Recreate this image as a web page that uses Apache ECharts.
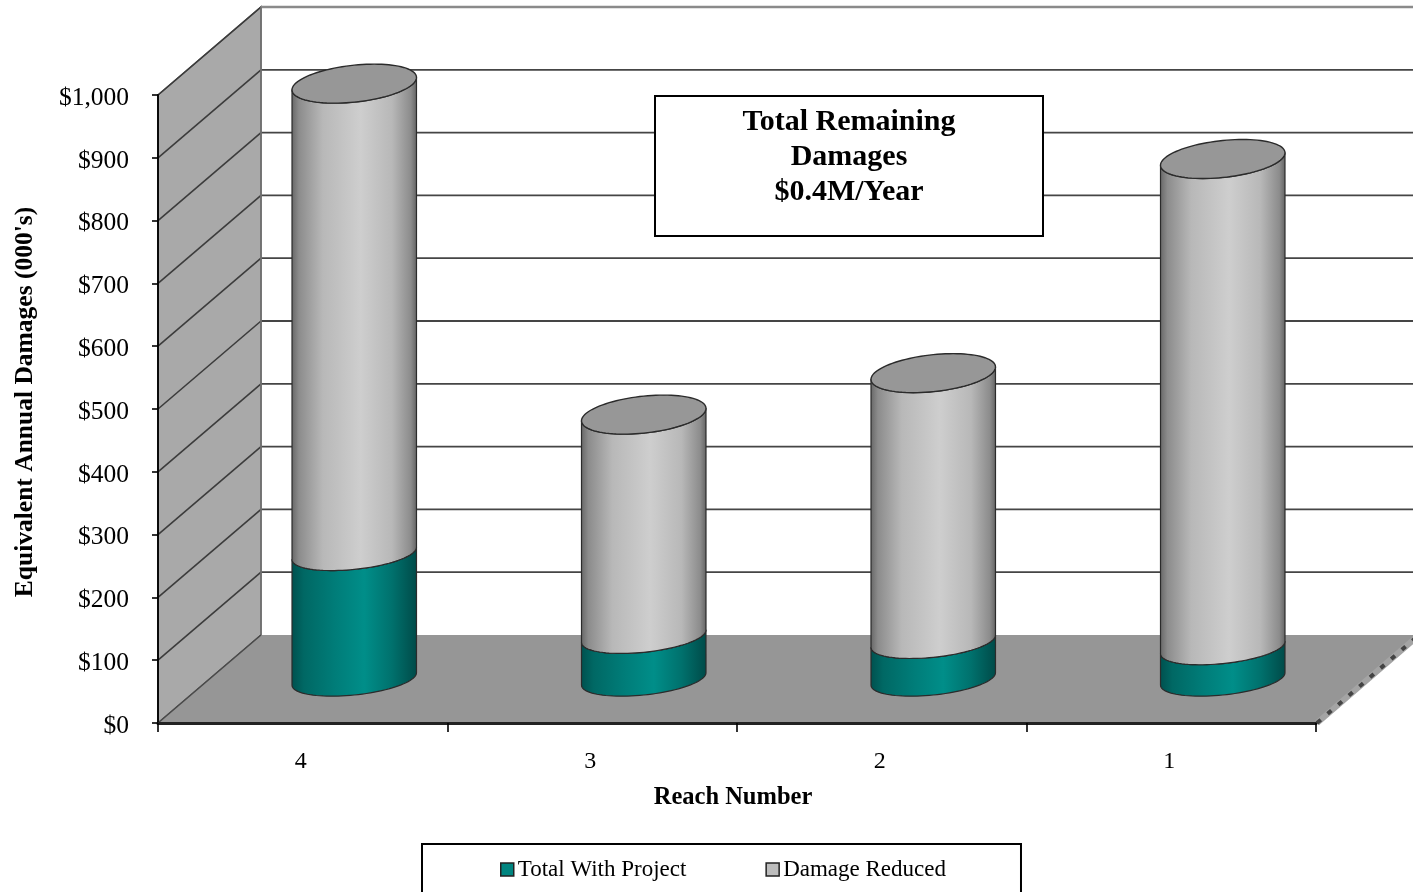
<!DOCTYPE html>
<html>
<head>
<meta charset="utf-8">
<style>html,body{margin:0;padding:0;background:#fff;overflow:hidden}#chart{width:1413px;height:892px}</style>
<script src="https://cdn.jsdelivr.net/npm/echarts@6/dist/echarts.min.js"></script>
</head>
<body>
<div id="chart"></div>
<script>
// Equivalent annual damages per reach, in thousands of dollars
const reaches = ['4', '3', '2', '1'];
const totalWithProject = [200, 68, 60, 50];
const damageReduced = [748, 353, 427, 778];
const gridValues = [100, 200, 300, 400, 500, 600, 700, 800, 900, 1000];
const noteLines = ['Total Remaining', 'Damages', '$0.4M/Year'];

const SERIF = '"Liberation Serif", "Times New Roman", serif';
// Oblique projection of the chart box and the cylinders
const DEPTH_X = 103, DEPTH_Y = -88;
const RADIUS_RATIO = 0.215, TILT = -0.1, CAP_SQUASH = 18.5, RIM_SQUASH = 16;
const RIGHT_EDGE = 1413;

const Gradient = echarts.graphic.LinearGradient;
const shade = stops => new Gradient(0, 0, 1, 0, stops.map(([offset, color]) => ({ offset, color })));
const greyShade = () => shade([[0, '#666666'], [0.06, '#8c8c8c'], [0.25, '#b8b8b8'], [0.55, '#cecece'], [0.8, '#b8b8b8'], [0.95, '#8c8c8c'], [1, '#626262']]);
const tealShade = () => shade([[0, '#00504e'], [0.1, '#006864'], [0.35, '#007d79'], [0.58, '#008e89'], [0.8, '#00716d'], [1, '#004a48']]);

// Centre of the ellipse at a given category and value, half way back in the box
function centre(api, cat, value) {
  const p = api.coord([cat, value]);
  return [p[0] + DEPTH_X / 2, p[1] + DEPTH_Y / 2];
}
// Points along the near half of an ellipse, walking left to right
function nearArc(c, a, b) {
  const pts = [];
  for (let i = 0; i <= 48; i++) {
    const t = Math.PI * (1 - i / 48);
    const dx = a * Math.cos(t);
    pts.push([c[0] + dx, c[1] + TILT * dx + b * Math.sin(t)]);
  }
  return pts;
}
function fullEllipse(c, a, b) {
  const pts = [];
  for (let i = 0; i < 96; i++) {
    const t = 2 * Math.PI * i / 96;
    const dx = a * Math.cos(t);
    pts.push([c[0] + dx, c[1] + TILT * dx + b * Math.sin(t)]);
  }
  return pts;
}
// One stacked section of a cylinder; the upper stack also draws its lid
function cylinderSection(fill, withCap) {
  return function (params, api) {
    const cat = api.value(0), low = api.value(1), high = low + api.value(2);
    const a = api.size([1, 0])[0] * RADIUS_RATIO;
    const bottom = nearArc(centre(api, cat, low), a, RIM_SQUASH);
    const topC = centre(api, cat, high);
    const top = nearArc(topC, a, withCap ? CAP_SQUASH : RIM_SQUASH).reverse();
    const children = [{
      type: 'polygon',
      shape: { points: bottom.concat(top) },
      style: { fill: fill(), stroke: '#2b2b2b', lineWidth: 1.2, lineJoin: 'round' }
    }];
    if (withCap) {
      children.push({
        type: 'polygon',
        shape: { points: fullEllipse(topC, a, CAP_SQUASH) },
        style: { fill: '#979797', stroke: '#2b2b2b', lineWidth: 1.4 }
      });
    }
    return { type: 'group', children };
  };
}
// Walls, floor and grid of the box behind the cylinders
function renderBox(params, api) {
  const band = api.size([1, 0])[0];
  const first = api.coord([0, 0]);
  const o = [first[0] - band / 2, first[1]];
  const end = [o[0] + band * reaches.length, o[1]];
  const topY = api.coord([0, 1000])[1];
  const back = [o[0] + DEPTH_X, o[1] + DEPTH_Y];
  const children = [];
  children.push({
    type: 'polygon',
    shape: { points: [o, back, [back[0], topY + DEPTH_Y], [o[0], topY]] },
    style: { fill: '#a9a9a9', stroke: '#4a4a4a', lineWidth: 1.5 }
  });
  gridValues.forEach(v => {
    const y = api.coord([0, v])[1];
    children.push({
      type: 'line',
      shape: { x1: o[0], y1: y, x2: o[0] + DEPTH_X, y2: y + DEPTH_Y },
      style: { stroke: '#3c3c3c', lineWidth: 1.6 }
    });
    children.push({
      type: 'line',
      shape: { x1: back[0], y1: y + DEPTH_Y, x2: RIGHT_EDGE, y2: y + DEPTH_Y },
      style: { stroke: v === 1000 ? '#8a8a8a' : '#454545', lineWidth: v === 1000 ? 2.4 : 1.8 }
    });
  });
  children.push({
    type: 'line',
    shape: { x1: back[0], y1: back[1], x2: back[0], y2: topY + DEPTH_Y },
    style: { stroke: '#777777', lineWidth: 1.6 }
  });
  children.push({
    type: 'polygon',
    shape: { points: [o, back, [end[0] + DEPTH_X, back[1]], end] },
    style: { fill: '#969696', stroke: null }
  });
  children.push({
    type: 'line',
    shape: { x1: o[0], y1: o[1], x2: back[0], y2: back[1] },
    style: { stroke: '#4a4a4a', lineWidth: 1.5 }
  });
  // Thin side edge of the floor slab
  const edge = { x1: end[0] + 1, y1: end[1], x2: end[0] + DEPTH_X, y2: end[1] + DEPTH_Y };
  children.push({ type: 'line', shape: edge, style: { stroke: '#a4a4a4', lineWidth: 6 } });
  children.push({ type: 'line', shape: edge, style: { stroke: '#444444', lineWidth: 4, lineDash: [5, 9] } });
  return { type: 'group', children, silent: true };
}

const chart = echarts.init(document.getElementById('chart'), null, { renderer: 'canvas' });
const lowerRows = reaches.map((r, i) => [i, 0, totalWithProject[i]]);
const upperRows = reaches.map((r, i) => [i, totalWithProject[i], damageReduced[i]]);

chart.setOption({
  animation: false,
  backgroundColor: '#ffffff',
  grid: { left: 158, top: 95, width: 1158, height: 628, containLabel: false },
  xAxis: {
    type: 'category',
    data: reaches,
    z: 5,
    name: 'Reach Number',
    nameLocation: 'middle',
    nameGap: 62,
    nameTextStyle: { fontFamily: SERIF, fontWeight: 'bold', fontSize: 24.5, color: '#000', padding: [0, 8, 0, 0] },
    axisLine: { lineStyle: { color: '#222222', width: 3 } },
    axisTick: { show: true, alignWithLabel: false, length: 9, lineStyle: { color: '#000', width: 1.6 } },
    axisLabel: { fontFamily: SERIF, fontSize: 24, color: '#000', margin: 27, padding: [0, 4, 0, 0] },
    splitLine: { show: false }
  },
  yAxis: {
    type: 'value',
    min: 0,
    max: 1000,
    interval: 100,
    z: 5,
    name: "Equivalent Annual Damages (000's)",
    nameLocation: 'middle',
    nameGap: 120,
    nameTextStyle: { fontFamily: SERIF, fontWeight: 'bold', fontSize: 25.5, color: '#000', padding: [0, 0, 0, 14] },
    axisLine: { show: true, lineStyle: { color: '#000', width: 1.8 } },
    axisTick: { show: true, length: 6, lineStyle: { color: '#000', width: 1.6 } },
    axisLabel: {
      fontFamily: SERIF, fontSize: 25.5, color: '#000', margin: 29,
      verticalAlign: 'top', lineHeight: 6,
      formatter: v => '$' + v.toLocaleString('en-US')
    },
    splitLine: { show: false }
  },
  legend: {
    left: 422,
    top: 844,
    orient: 'horizontal',
    selectedMode: false,
    backgroundColor: '#fff',
    borderColor: '#000',
    borderWidth: 2,
    padding: [14, 75, 19, 78],
    itemWidth: 13,
    itemHeight: 13,
    itemGap: 79,
    textStyle: { fontFamily: SERIF, fontSize: 23, color: '#000', padding: [0, 0, 0, -1] },
    data: [
      { name: 'Total With Project', icon: 'rect', itemStyle: { color: '#008580', borderColor: '#222', borderWidth: 1.5 } },
      { name: 'Damage Reduced', icon: 'rect', itemStyle: { color: '#bdbdbd', borderColor: '#222', borderWidth: 1.5 } }
    ]
  },
  graphic: [{
    type: 'group',
    left: 654,
    top: 95,
    children: [
      { type: 'rect', z: 20, shape: { x: 0, y: 0, width: 388, height: 140 }, style: { fill: '#fff', stroke: '#000', lineWidth: 2 } }
    ].concat(noteLines.map((line, i) => ({
      type: 'text',
      z: 21,
      x: 194,
      y: 11 + i * 35,
      style: {
        text: line,
        font: 'bold 30px ' + SERIF,
        fill: '#000',
        align: 'center',
        verticalAlign: 'top'
      }
    })))
  }],
  series: [
    { type: 'custom', name: 'box', silent: true, z: 1, renderItem: renderBox, data: [[0, 0]], encode: { x: 0, y: 1 } },
    {
      type: 'custom', name: 'Total With Project', z: 3, itemStyle: { color: '#008580' },
      renderItem: cylinderSection(tealShade, false), data: lowerRows, encode: { x: 0, y: 1 }
    },
    {
      type: 'custom', name: 'Damage Reduced', z: 3, itemStyle: { color: '#bdbdbd' },
      renderItem: cylinderSection(greyShade, true), data: upperRows, encode: { x: 0, y: 1 }
    }
  ]
});
</script>
</body>
</html>
